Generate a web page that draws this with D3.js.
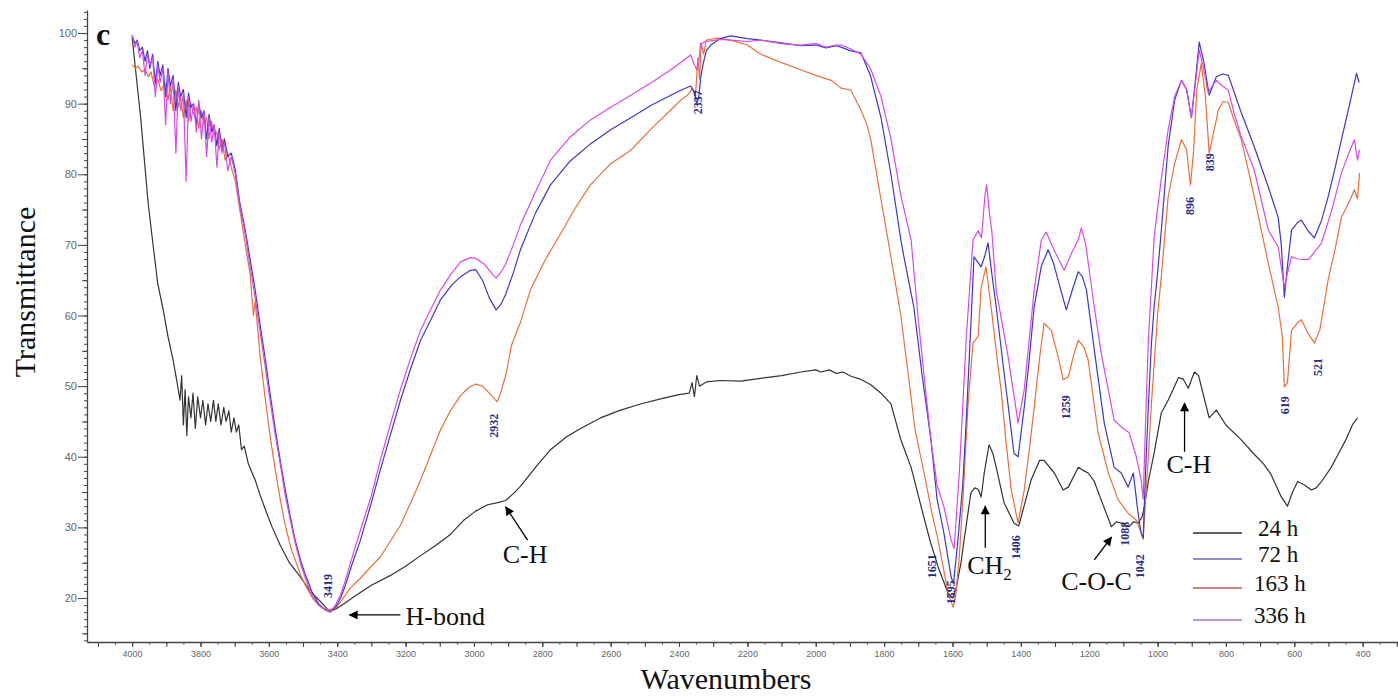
<!DOCTYPE html>
<meta charset="utf-8">
<html>
<head>
  <title>FTIR spectra</title>
  <style>
    body { margin: 0; background: #fff; }
    svg { width: 1398px; height: 697px; display: block; }
    .curve { fill: none; stroke-width: 1.2px; stroke-linejoin: round; }
    .axis path, .axis line { stroke: #444; }
    .axis text { fill: #666; font-family: 'Liberation Sans', Arial, sans-serif; }
    .serif { font-family: 'Liberation Serif', 'Times New Roman', serif; fill: #111; }
    .peak { font-family: 'Liberation Serif', serif; font-weight: bold; font-size: 12px; fill: #2a2a86; }
  </style>
  <script src="https://d3js.org/d3.v7.min.js"></script>
</head>
<body>
  <svg></svg>
  <script>
    // spectra: [wavenumber, transmittance]
    var s24 = [[4000,99.4],[3975,88],[3953,75.9],[3938,69.7],[3925,64.5],[3909,60.8],[3895,57],[3880,53.7],[3868,50.4],
      [3860,48],[3855,51.5],[3850,44.5],[3845,49.5],[3840,43],[3835,48.5],[3828,45.5],[3822,49],[3815,44],[3808,48.5],
      [3800,45.5],[3793,48],[3785,44.5],[3778,47.5],[3770,45],[3762,48],[3755,45],[3748,47.5],[3740,44.5],[3732,47],
      [3725,45],[3717,46.5],[3710,43.5],[3702,45.5],[3695,43.5],[3688,44.5],[3680,41],[3672,41.5],[3660,39],[3640,36.7],
      [3625,34.5],[3610,32.5],[3590,30],[3567,27.5],[3540,25],[3508,23],[3480,21],[3449,19.5],[3425,18.2],[3405,18.4],
      [3380,19.2],[3350,20.2],[3300,21.8],[3244,23.2],[3200,24.5],[3156,26],[3110,27.5],[3069,29],[3030,31],[2995,32.3],
      [2960,33.2],[2930,33.5],[2907,33.8],[2880,35],[2864,35.8],[2820,38.5],[2776,41],[2730,42.8],[2688,44],[2630,45.5],
      [2571,46.6],[2510,47.5],[2454,48.2],[2400,48.8],[2370,49],[2362,50.5],[2355,48.5],[2348,51.5],[2340,50],[2320,50.6],
      [2278,50.8],[2220,50.7],[2161,51.1],[2100,51.5],[2044,52],[2000,52.3],[1985,52],[1960,52.3],[1940,51.8],[1920,52],
      [1897,51.4],[1870,51],[1839,50.2],[1809,49],[1780,47.5],[1751,42.4],[1721,38.5],[1692,33],[1665,28],[1642,24.4],
      [1613,20.7],[1600,20],[1590,21.2],[1575,25],[1566,28.2],[1546,34.9],[1535,35.6],[1525,35.4],[1516,34.3],[1507,37.7],
      [1493,41.7],[1482,40.5],[1472,38.5],[1449,33.5],[1420,30.6],[1406,30.2],[1399,31.5],[1385,34],[1370,36.7],[1345,39.5],
      [1332,39.5],[1302,37.7],[1276,35.3],[1261,35.7],[1232,38.5],[1215,38],[1203,37.7],[1185,36.5],[1165,33.9],[1135,30.1],
      [1120,30.8],[1106,30.6],[1083,30.1],[1070,30.8],[1057,30.6],[1045,31.5],[1039,32.9],[1025,37],[1010,40.5],[989,46.2],
      [969,48],[950,50],[939,51.2],[925,51],[910,49.7],[900,51],[892,52],[880,51.5],[862,48],[849,45.5],[828,46.6],[800,44.5],
      [755,42.4],[720,40.5],[690,39],[668,37.5],[640,34.5],[620,33],[605,35],[590,36.5],[570,36],[550,35.3],[536,35.6],
      [520,36.5],[492,38.5],[470,40.5],[448,42.5],[430,44.5],[415,45.5]];

    var s72 = [[4000,99.7],[3992,98.5],[3985,99],[3978,97.5],[3970,98],[3962,96],[3955,97.5],[3948,95],[3940,97],[3932,93],
      [3925,96],[3918,94],[3910,95.5],[3902,91],[3895,95],[3888,92.5],[3880,94],[3872,89],[3865,93],[3858,91],[3850,92],
      [3842,88],[3835,91.5],[3828,89.5],[3820,90],[3812,87],[3805,90],[3797,88],[3790,89],[3782,85],[3775,88.5],[3767,86],
      [3760,87],[3752,84],[3745,86.5],[3737,83.5],[3730,85],[3720,82.5],[3710,83],[3698,80.6],[3685,76],[3669,72.1],
      [3655,68],[3640,63.6],[3625,58.5],[3610,53.7],[3595,48.5],[3581,43.8],[3565,39],[3552,35.3],[3535,31],[3523,28.2],
      [3505,25],[3493,23.3],[3475,21],[3455,19.2],[3435,18.3],[3420,18],[3405,18.7],[3390,20],[3376,21.8],[3355,25],
      [3332,28.2],[3300,33.5],[3274,38.1],[3245,43],[3215,48],[3185,52.5],[3156,56.5],[3125,59.5],[3098,62.2],[3065,64.3],
      [3039,65.5],[3010,66.4],[2995,66.5],[2975,65],[2955,62.5],[2935,60.8],[2922,61.5],[2907,63],[2885,66],[2864,69.3],
      [2820,74.5],[2776,78.5],[2720,81.8],[2659,84.3],[2600,86.3],[2541,88],[2480,89.8],[2424,91.2],[2390,92],[2366,92.5],
      [2355,91.5],[2348,90],[2342,91],[2337,93.5],[2330,95.5],[2320,97.5],[2307,98.3],[2280,99.2],[2249,99.6],[2200,99.2],
      [2161,99],[2100,98.6],[2044,98.2],[2000,98.3],[1970,97.9],[1940,98.2],[1926,98],[1900,97.5],[1868,97.2],[1840,94],
      [1809,88],[1780,80],[1751,70.7],[1742,68.3],[1713,61.2],[1690,52],[1663,42.4],[1645,34],[1625,29.2],[1604,23],
      [1597,22],[1584,28.2],[1570,36],[1560,44.8],[1546,58.9],[1537,68.3],[1525,67.5],[1516,66.9],[1505,68.5],[1496,70.3],
      [1485,66],[1472,61.2],[1449,51.9],[1420,40.5],[1408,40],[1390,47],[1375,54],[1361,61.2],[1340,67],[1320,69.3],
      [1305,67.5],[1291,65],[1267,60.8],[1250,63.5],[1232,66.2],[1220,65.5],[1208,63.6],[1185,55.1],[1156,44.8],[1127,38.5],
      [1106,37.7],[1086,35.7],[1071,37.7],[1057,32],[1048,29.2],[1042,28.5],[1035,38],[1027,47],[1018,56],[1010,61.2],
      [1000,66],[989,72],[969,84],[950,90.5],[930,93.3],[915,92],[901,88],[890,93],[878,98.7],[865,96],[849,91.2],[828,93.8],
      [810,94.2],[793,94],[775,91.5],[755,88.7],[717,83.9],[676,78.2],[647,73.9],[638,70],[629,62.6],[620,67],[608,72.1],
      [590,73.2],[579,73.5],[560,72],[541,71],[520,73.5],[501,76.8],[480,81],[462,84.9],[440,89.5],[418,94.3],[410,93]];

    var s163 = [[4000,95.5],[3990,95],[3982,95.3],[3972,94.5],[3962,94.8],[3952,93.8],[3945,94.5],[3935,92.5],[3925,93.5],
      [3915,91.8],[3905,93],[3895,90.5],[3888,92.5],[3880,89],[3872,92],[3865,89.5],[3858,91],[3850,88],[3842,90.5],
      [3835,87.5],[3828,90],[3820,88.5],[3812,89.5],[3805,86.5],[3798,89],[3790,87],[3782,88],[3775,85],[3768,87.5],
      [3760,85.5],[3752,86],[3745,83.5],[3737,85],[3728,82],[3720,83],[3710,81],[3698,79],[3685,75],[3669,70],[3655,66],
      [3645,60],[3640,62],[3625,54],[3610,48],[3595,42.5],[3581,38.1],[3565,33.5],[3552,30.3],[3535,27],[3523,25.4],
      [3505,23],[3493,21.8],[3470,19.8],[3450,18.8],[3430,18.3],[3405,18.5],[3385,19.8],[3360,21.5],[3332,22.8],[3300,24.5],
      [3274,25.8],[3245,28],[3215,30.3],[3185,33.5],[3156,36.7],[3125,40.5],[3098,43.8],[3069,46.5],[3039,48.7],[3015,49.8],
      [2995,50.3],[2975,50],[2955,49],[2940,48.2],[2932,47.8],[2922,49],[2907,51.5],[2890,55.8],[2864,59],[2835,63.6],
      [2790,68],[2740,72.1],[2700,75.5],[2659,78.5],[2600,81.5],[2541,83.4],[2480,86.5],[2424,89.1],[2395,90.5],[2375,91.2],
      [2360,92.2],[2352,91],[2345,96.5],[2340,93.5],[2335,98.5],[2328,97],[2320,99],[2290,99.3],[2249,99],[2200,98.3],
      [2161,97],[2100,95.8],[2044,94.8],[2000,94],[1955,93.3],[1926,92.2],[1897,91.9],[1868,89.1],[1850,87],[1839,84.9],
      [1809,76.4],[1780,68.3],[1751,60],[1730,51.9],[1710,44],[1683,37.7],[1660,32],[1642,28.2],[1613,20.7],[1598,18.7],
      [1590,20.5],[1580,25.8],[1567,36],[1555,47],[1540,56.1],[1525,57],[1516,64],[1502,66.9],[1487,61.2],[1472,55],
      [1458,49.5],[1443,42],[1428,35.3],[1408,30.6],[1390,35.3],[1375,41],[1361,47],[1345,54],[1332,58.9],[1311,57.9],
      [1290,54],[1276,50.9],[1261,51.3],[1245,54.5],[1232,56.5],[1215,55.5],[1203,53.7],[1190,49],[1174,43.4],[1144,37.7],
      [1115,33.9],[1086,32],[1062,31],[1048,29.2],[1042,28.3],[1035,34],[1027,40],[1018,47.5],[1010,53],[1000,60],
      [989,65.5],[969,76.8],[950,81.5],[930,84.9],[915,83.5],[904,78.5],[895,83],[885,92],[872,95.7],[860,91],[849,83],
      [840,85],[822,89.1],[808,90.3],[793,90.2],[775,87.5],[755,84.9],[717,76.8],[676,67.4],[647,61.2],[635,57],[629,49.9],
      [620,50.5],[608,57.9],[590,59],[579,59.4],[560,57.5],[541,56.1],[525,58],[501,65],[480,69.5],[462,73.9],[440,76],
      [424,77.8],[415,76.5],[409,80.2]];

    var s336 = [[4000,99.7],[3992,98],[3985,98.8],[3978,96.5],[3970,97.5],[3962,94],[3955,97],[3948,95.5],[3940,96.5],
      [3932,91],[3925,95.5],[3918,93],[3910,95],[3902,87],[3895,94.5],[3888,90],[3880,93.5],[3872,83],[3865,92.5],[3858,89],
      [3850,91.5],[3842,79],[3835,91],[3828,87.5],[3820,90],[3812,86],[3805,90.5],[3797,85],[3790,89],[3782,82.5],[3775,88],
      [3767,84.5],[3760,87],[3752,81],[3745,86],[3737,83],[3730,84.5],[3720,80.5],[3710,82.5],[3698,80],[3685,75.5],
      [3669,71.5],[3655,67],[3640,62.5],[3625,57.5],[3610,52.5],[3595,47.5],[3581,43],[3565,38.5],[3552,34.5],[3535,30.5],
      [3523,27.8],[3505,24.5],[3493,22.8],[3475,20.5],[3455,19],[3435,18.3],[3420,18.1],[3405,19],[3390,20.5],[3376,22.5],
      [3355,26],[3332,29.6],[3300,34.5],[3274,39.5],[3245,44.5],[3215,49.5],[3185,54],[3156,57.9],[3125,61],[3098,63.6],
      [3065,66],[3039,67.6],[3010,68.2],[2995,68.1],[2970,67.3],[2945,65.8],[2935,65.3],[2920,66.2],[2907,67.3],[2885,70],
      [2864,72.8],[2820,77.5],[2776,82],[2720,85.2],[2659,87.7],[2600,89.5],[2541,91.2],[2480,93],[2424,94.8],[2390,96],
      [2366,96.9],[2355,95.5],[2348,94.8],[2342,96],[2337,98.5],[2320,98.8],[2280,99.1],[2249,99],[2200,98.8],[2161,99],
      [2100,98.5],[2044,98.3],[2000,98.5],[1970,98],[1940,98.3],[1926,98.3],[1900,97.8],[1868,97],[1840,95],[1809,91],
      [1780,85],[1751,77],[1721,70.7],[1701,60],[1680,50],[1663,42.4],[1645,36],[1625,32.9],[1604,28.2],[1595,27],
      [1580,37.7],[1560,56.5],[1540,70.7],[1525,72],[1515,71],[1505,77],[1500,78.5],[1493,75],[1485,72],[1472,63.6],
      [1437,54.1],[1408,44.8],[1390,49.5],[1361,63.6],[1340,70.7],[1326,71.8],[1300,69],[1273,66.4],[1250,69],[1232,70.7],
      [1223,72.4],[1210,70],[1185,61.2],[1165,54.7],[1127,45.2],[1106,44.2],[1083,43.4],[1062,40],[1048,36.7],[1042,34],
      [1035,45],[1027,56.5],[1018,64],[1010,71.1],[990,79],[969,86.3],[950,91],[930,93.3],[915,92],[901,88],[890,92.5],
      [878,97.6],[865,95],[852,91.5],[840,92.5],[828,93.3],[810,92.5],[793,91.9],[775,88.5],[755,85.3],[717,80.6],[676,72.1],
      [647,69.7],[629,64],[620,66],[608,68.3],[590,68],[559,67.9],[540,69],[520,70.3],[490,75],[462,80.2],[440,83],
      [424,84.9],[415,82],[409,83.5]];

    var seriesNames = ["24 h", "72 h", "163 h", "336 h"];
    var seriesData = [s24, s72, s163, s336];
    var lineColors = ["#333333", "#3a3ac6", "#e8703c", "#d64ae8"];
    var legendColors = ["#2a2a2a", "#6a6ab8", "#c85a5a", "#a57ab8"];

    // peak labels: wavenumber, text, transmittance at label centre
    var peakWn = [3419, 2932, 2337, 1651, 1595, 1406, 1259, 1088, 1042, 896, 839, 619, 521];
    var peakT  = [21.7, 44.4, 90.2, 24.5, 20.8, 27.2, 47.0, 29.1, 24.5, 75.5, 81.7, 47.3, 52.7];

    var xTicks = d3.range(4000, 399, -200);
    var yTicks = d3.range(20, 101, 10);

    var svg = d3.select("svg");

    var x = d3.scaleLinear().domain([4132, 298]).range([87, 1397.5]);
    var y = d3.scaleLinear().domain([13.77, 103.26]).range([642, 10]);

    // minor ticks first
    svg.append("g").attr("class", "axis").attr("transform", "translate(0,642)")
      .call(d3.axisBottom(x).tickValues(d3.range(4100, 299, -50)).tickSize(2.5).tickFormat(""))
      .select(".domain").remove();
    svg.append("g").attr("class", "axis").attr("transform", "translate(0,642)")
      .call(d3.axisBottom(x).tickValues(d3.range(4100, 299, -100)).tickSize(5).tickFormat(""))
      .select(".domain").remove();
    var xa = svg.append("g").attr("class", "axis").attr("transform", "translate(0,642)")
      .call(d3.axisBottom(x).tickValues(xTicks).tickSize(5).tickPadding(4).tickSizeOuter(0).tickFormat(d3.format("d")));
    xa.selectAll("text").style("font-size", "9px");
    xa.select(".domain").attr("stroke-width", 1.3);

    svg.append("g").attr("class", "axis").attr("transform", "translate(87,0)")
      .call(d3.axisLeft(y).tickValues(d3.range(14, 104, 1)).tickSize(3).tickFormat(""))
      .select(".domain").remove();
    svg.append("g").attr("class", "axis").attr("transform", "translate(87,0)")
      .call(d3.axisLeft(y).tickValues(d3.range(15, 104, 10)).tickSize(5).tickFormat(""))
      .select(".domain").remove();
    var ya = svg.append("g").attr("class", "axis").attr("transform", "translate(87,0)")
      .call(d3.axisLeft(y).tickValues(yTicks).tickSize(9).tickPadding(1).tickSizeOuter(0));
    ya.selectAll("text").style("font-size", "11px");
    ya.select(".domain").attr("stroke-width", 1.3);

    // curves
    var line = d3.line()
      .x(function(d) { return x(d[0]); })
      .y(function(d) { return y(d[1]); });

    [0, 2, 1, 3].forEach(function(i) {
      svg.append("path")
        .attr("class", "curve")
        .attr("d", line(seriesData[i]))
        .style("stroke", lineColors[i]);
    });

    // peak labels
    peakWn.forEach(function(w, i) {
      svg.append("text")
        .attr("class", "peak")
        .attr("transform", "translate(" + (x(w) - 3) + "," + y(peakT[i]) + ") rotate(-90)")
        .attr("text-anchor", "middle")
        .attr("dy", "0.35em")
        .text(w);
    });

    // arrows and band names
    svg.append("defs").append("marker")
      .attr("id", "head")
      .attr("viewBox", "0 0 10 10")
      .attr("refX", 9).attr("refY", 5)
      .attr("markerWidth", 10).attr("markerHeight", 9)
      .attr("markerUnits", "userSpaceOnUse")
      .attr("orient", "auto")
      .append("path").attr("d", "M0,0L10,5L0,10Z").attr("fill", "#000");

    var notes = [
      { text: "H-bond", wn: 3200, t: 16.2, from: [3215, 17.6], to: [3364, 17.6] },
      { text: "C-H", wn: 2916, t: 25.0, from: [2843, 28.2], to: [2907, 32.9] },
      { text: "CH", sub: "2", wn: 1557, t: 23.4, from: [1504, 27.1], to: [1504, 33.0] },
      { text: "C-O-C", wn: 1282, t: 21.1, from: [1185, 25.4], to: [1135, 28.6] },
      { text: "C-H", wn: 974, t: 37.7, from: [921, 40.7], to: [921, 47.6] }
    ];

    notes.forEach(function(n) {
      svg.append("line")
        .attr("x1", x(n.from[0])).attr("y1", y(n.from[1]))
        .attr("x2", x(n.to[0])).attr("y2", y(n.to[1]))
        .attr("stroke", "#000").attr("stroke-width", 1.3)
        .attr("marker-end", "url(#head)");
      var t = svg.append("text")
        .attr("class", "serif")
        .attr("x", x(n.wn)).attr("y", y(n.t))
        .style("font-size", "26px")
        .text(n.text);
      if (n.sub) {
        t.append("tspan").attr("dy", 6).style("font-size", "17px").text(n.sub);
      }
    });

    // legend
    seriesNames.forEach(function(name, i) {
      var ly = [533, 559, 588, 620][i];
      svg.append("line")
        .attr("x1", 1193).attr("x2", 1242)
        .attr("y1", ly).attr("y2", ly)
        .attr("stroke", legendColors[i]).attr("stroke-width", 1.5);
      svg.append("text")
        .attr("class", "serif")
        .attr("x", i < 2 ? 1258 : 1254).attr("y", ly + 3)
        .style("font-size", "23px")
        .text(name);
    });

    // panel letter and axis titles
    svg.append("text").attr("class", "serif")
      .attr("x", 96).attr("y", 45)
      .style("font-size", "32px").style("font-weight", "bold")
      .text("c");

    svg.append("text").attr("class", "serif")
      .attr("x", 726).attr("y", 689)
      .attr("text-anchor", "middle")
      .style("font-size", "30px")
      .text("Wavenumbers");

    svg.append("text").attr("class", "serif")
      .attr("transform", "translate(35,292) rotate(-90)")
      .attr("text-anchor", "middle")
      .style("font-size", "30px")
      .text("Transmittance");
  </script>
</body>
</html>
